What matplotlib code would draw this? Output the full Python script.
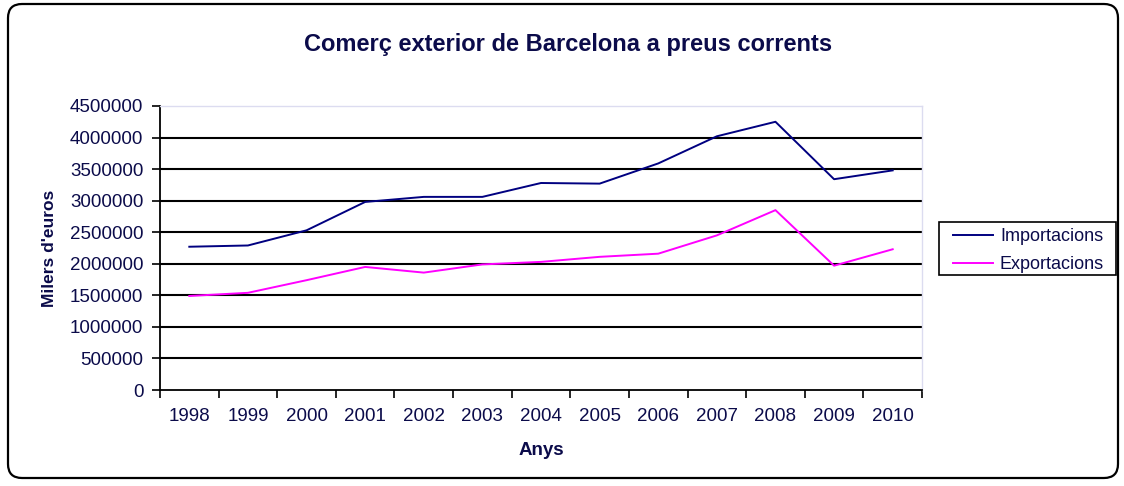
import matplotlib
matplotlib.use("Agg")
import matplotlib.pyplot as plt
from matplotlib.patches import FancyBboxPatch, Rectangle
import numpy as np

plt.rcParams['font.family'] = ['Liberation Sans', 'DejaVu Sans']

anys = ['1998', '1999', '2000', '2001', '2002', '2003', '2004',
        '2005', '2006', '2007', '2008', '2009', '2010']
importacions = [2270000, 2290000, 2530000, 2980000, 3060000, 3060000, 3280000,
                3270000, 3590000, 4020000, 4250000, 3340000, 3480000]
exportacions = [1490000, 1540000, 1740000, 1950000, 1860000, 1990000, 2030000,
                2110000, 2160000, 2450000, 2850000, 1970000, 2230000]
yticks = [0, 500000, 1000000, 1500000, 2000000, 2500000, 3000000, 3500000, 4000000, 4500000]

txt = '#0b0b4a'

fig = plt.figure(figsize=(11.24, 4.86), dpi=100)
W, H = 1124, 486

# rounded outer frame (in pixels)
frame = FancyBboxPatch((8, 8), 1110, 474,
                       boxstyle="round,pad=0,rounding_size=14",
                       transform=None, facecolor='none',
                       edgecolor='black', linewidth=1.6, zorder=5)
fig.patches.append(frame)

ax = fig.add_axes([160 / W, 1 - 390 / H, 762 / W, 284 / H])
x = np.arange(len(anys))
ax.plot(x, importacions, color='#000080', lw=1.4, label='Importacions')
ax.plot(x, exportacions, color='#ff00ff', lw=1.4, label='Exportacions')

ax.set_xlim(-0.5, len(anys) - 0.5)
ax.set_ylim(0, 4500000)
ax.set_yticks(yticks)
ax.set_yticklabels([str(v) for v in yticks], color=txt, fontsize=13.5)
ax.set_xticks(x)
ax.set_xticklabels(anys, color=txt, fontsize=13.5)
ax.set_xticks(np.arange(-0.5, len(anys)), minor=True)
ax.tick_params(axis='x', which='major', length=0, pad=13)
ax.tick_params(axis='x', which='minor', length=6, width=1.2, direction='out')
ax.tick_params(axis='y', length=6, width=1.2, direction='out', pad=6)

for v in yticks[1:-1]:
    ax.axhline(v, color='black', lw=1.5, zorder=0)

for s in ['top', 'right']:
    ax.spines[s].set_color('#dcdcf0')
    ax.spines[s].set_linewidth(1)
ax.spines['left'].set_linewidth(1.3)
ax.spines['bottom'].set_linewidth(1.3)

ax.set_xlabel('Anys', fontsize=13.5, fontweight='bold', color=txt, labelpad=12)
ax.set_ylabel("Milers d'euros", fontsize=12.5, fontweight='bold', color=txt, labelpad=9)

fig.text(568 / W, 1 - 45 / H, 'Comerç exterior de Barcelona a preus corrents',
         ha='center', va='center', fontsize=17, fontweight='bold', color=txt)

# legend box drawn separately so padding matches
legbox = Rectangle((939, H - 275), 177, 53, transform=None, facecolor='white',
                   edgecolor='black', linewidth=1.2, zorder=4)
fig.patches.append(legbox)
leg = ax.legend(loc='upper left', bbox_to_anchor=(953 / W, 1 - 228 / H),
                bbox_transform=fig.transFigure, fontsize=13, frameon=False,
                handlelength=2.2, handletextpad=0.4, borderpad=0,
                labelspacing=0.6, borderaxespad=0)
leg.set_zorder(6)
leg.set_figure(fig)
for t in leg.get_texts():
    t.set_color(txt)
ax.legend_ = None
fig.legends.append(leg)

fig.savefig('out.png', dpi=100)
